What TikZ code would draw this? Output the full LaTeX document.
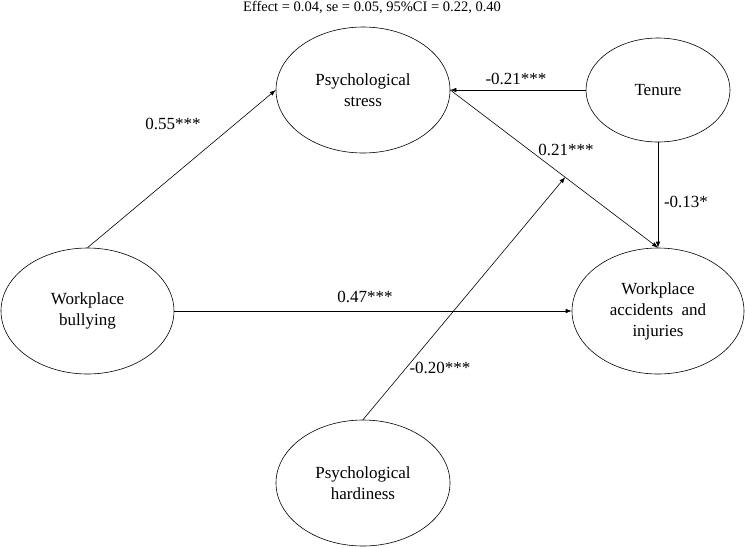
\documentclass[tikz,border=0pt]{standalone}
\usepackage{fontspec}
\setmainfont{Liberation Serif}
\newfontfamily\tnr{Liberation Serif}
\usetikzlibrary{shapes.geometric,arrows.meta}
\begin{document}
\begin{tikzpicture}[x=1pt,y=-1pt,
  var/.style={ellipse,draw,line width=0.6pt,inner sep=0pt,align=center,font=\tnr\fontsize{17}{21}\selectfont},
  conn/.style={line width=0.6pt},
  arr/.style={conn,-{Latex[length=6pt,width=4.5pt]}},
  lbl/.style={font=\tnr\fontsize{17}{21}\selectfont,inner sep=0pt}]
\useasboundingbox (0,0) rectangle (745,547);
\node[font=\tnr\fontsize{14.5}{17}\selectfont,inner sep=0pt] (title) at (372,8) {Effect = 0.04,\ se = 0.05,\ 95\%CI = 0.22,\ 0.40};
\node[var,minimum width=174,minimum height=126] (stress) at (363,90) {Psychological\\stress};
\node[var,minimum width=144,minimum height=104] (tenure) at (658,90) {Tenure};
\node[var,minimum width=173,minimum height=126] (bully) at (87.5,311) {Workplace\\bullying};
\node[var,minimum width=172,minimum height=126] (acc) at (658,311) {Workplace\\accidents\ \ and\\injuries};
\node[var,minimum width=174,minimum height=126] (hard) at (363,483) {Psychological\\hardiness};
\draw[arr] (bully.north) -- (stress.west);
\draw[arr] (bully.east) -- (acc.west);
\draw[arr] (tenure.west) -- (stress.east);
\draw[arr] (tenure.south) -- (acc.north);
\draw[arr] (stress.east) -- (acc.north);
\path (stress.east) -- (acc.north) coordinate[pos=0.553] (mod);
\draw[arr] (hard.north) -- (mod);
\node[lbl] (l1) at (173,124) {0.55***};
\node[lbl] (l2) at (516,79) {-0.21***};
\node[lbl] (l3) at (566,150) {0.21***};
\node[lbl] (l4) at (686,202) {-0.13*};
\node[lbl] (l5) at (365,297) {0.47***};
\node[lbl] (l6) at (440,368) {-0.20***};
\end{tikzpicture}
\end{document}
